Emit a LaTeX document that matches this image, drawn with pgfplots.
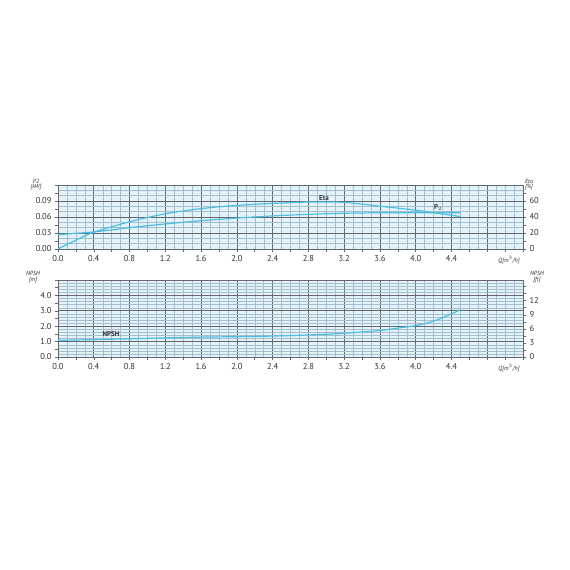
\documentclass[border=0pt]{standalone}
\usepackage{pgfplots}
\pgfplotsset{compat=1.18}
\usepackage{fontspec}
\setmainfont{PT Sans}

\definecolor{curveblue}{RGB}{78,190,228}
\definecolor{bgblue}{RGB}{228,243,250}
\definecolor{majgrid}{RGB}{100,104,110}
\definecolor{mingrid}{RGB}{165,190,205}
\definecolor{txt}{RGB}{50,50,50}

\pgfplotsset{
  pump/.style={
    scale only axis, width=465pt, anchor=south west,
    xmin=0, xmax=5.2,
    xtick={0,0.4,0.8,1.2,1.6,2.0,2.4,2.8,3.2,3.6,4.0,4.4,4.8,5.2},
    xticklabels={0.0,0.4,0.8,1.2,1.6,2.0,2.4,2.8,3.2,3.6,4.0,4.4,{},{}},
    minor x tick num=3,
    grid=both,
    major grid style={draw=majgrid, line width=0.6pt},
    minor grid style={draw=mingrid, line width=0.35pt},
    axis background/.style={fill=bgblue},
    axis line style={draw=majgrid, line width=0.6pt},
    tick style={draw=majgrid, line width=0.5pt},
    tick align=outside, major tick length=3pt, minor tick length=0pt,
    xtick pos=bottom, ytick pos=left,
    ticklabel style={font=\fontsize{8.5}{10}\selectfont, text=txt},
    /pgf/number format/assume math mode=true,
    extra x ticks={0.2,0.6,1.0,1.4,1.8,2.2,2.6,3.0,3.4,3.8,4.2,4.6,5.0},
    extra x tick labels={},
    extra x tick style={grid=none},
  },
  rightax/.style={
    scale only axis, width=465pt, anchor=south west,
    xmin=0, xmax=5.2, axis x line=none,
    axis y line*=right,
    axis line style={draw=majgrid, line width=0.6pt},
    tick style={draw=majgrid, line width=0.5pt},
    tick align=outside, major tick length=3pt,
    ticklabel style={font=\fontsize{8.5}{10}\selectfont, text=txt},
    /pgf/number format/assume math mode=true,
    extra y tick labels={},
  },
  curve/.style={curveblue, line width=1.2pt, smooth, no markers},
}

\begin{document}
\begin{tikzpicture}
\fill[white] (0pt,0pt) rectangle (570pt,570pt);

% ---- upper chart: P2 (kW, left) ----
\begin{axis}[pump, at={(58pt,321pt)}, height=64pt,
  ymin=0, ymax=0.12,
  ytick={0,0.03,0.06,0.09,0.12},
  yticklabels={0.00,0.03,0.06,0.09,{}},
  minor y tick num=2,
  extra y ticks={0.015,0.045,0.075,0.105},
  extra y tick labels={},
  extra y tick style={grid=none},
]
\addplot[curve] coordinates {
  (0,0.027) (0.4,0.032) (0.8,0.040) (1.2,0.047) (1.6,0.053) (2.0,0.058)
  (2.4,0.062) (2.8,0.065) (3.2,0.067) (3.6,0.068) (4.0,0.068) (4.5,0.068)
};
\end{axis}
% Eta (%, right)
\begin{axis}[rightax, at={(58pt,321pt)}, height=64pt,
  ymin=0, ymax=80, ytick={0,20,40,60}, extra y ticks={10,30,50,70},
]
\addplot[curve] coordinates {
  (0,0) (0.2,11) (0.4,21) (0.8,34) (1.2,44) (1.6,50.5) (2.0,54.5)
  (2.4,57) (2.8,58.7) (3.2,58.3) (3.6,53.5) (4.0,48.5) (4.5,40.5)
};
\end{axis}

% ---- lower chart: NPSH (m, left) ----
\begin{axis}[pump, at={(58pt,213pt)}, height=77pt,
  ymin=0, ymax=5,
  ytick={0,1,2,3,4,5},
  yticklabels={0.0,1.0,2.0,3.0,4.0,{}},
  minor y tick num=4,
  extra y ticks={0.5,1.5,2.5,3.5,4.5},
  extra y tick labels={},
  extra y tick style={grid=none},
]
\addplot[curve] coordinates {
  (0,1.08) (0.4,1.13) (0.8,1.18) (1.2,1.24) (1.6,1.29) (2.0,1.32)
  (2.4,1.36) (2.8,1.43) (3.2,1.54) (3.6,1.72) (3.8,1.88) (4.0,2.04)
  (4.2,2.33) (4.4,2.8) (4.5,3.07)
};
\end{axis}
% NPSH (ft, right)
\begin{axis}[rightax, at={(58pt,213pt)}, height=77pt,
  ymin=0, ymax=16.404, ytick={0,3,6,9,12}, extra y ticks={1.5,4.5,7.5,10.5,13.5,15},
]
\end{axis}

% axis titles
\begin{scope}[font=\itshape\fontsize{6}{7}\selectfont, text=txt]
\node at (36pt,389pt) {P2};
\node at (36pt,382.5pt) {[kW]};
\node at (529pt,389pt) {Eta};
\node at (529pt,382.5pt) {[\%]};
\node at (509pt,310pt) {Q[m$^3$/h]};
\node at (33pt,297pt) {NPSH};
\node at (33pt,290pt) {[m]};
\node at (537pt,297pt) {NPSH};
\node at (537pt,290pt) {[ft]};
\node at (509pt,202pt) {Q[m$^3$/h]};
\end{scope}
% curve names
\begin{scope}[font=\bfseries\fontsize{7}{8}\selectfont, text=txt]
\node at (324pt,372pt) {Eta};
\node at (438pt,362pt) {P$_2$};
\node at (111pt,236pt) {NPSH};
\end{scope}
\end{tikzpicture}
\end{document}
